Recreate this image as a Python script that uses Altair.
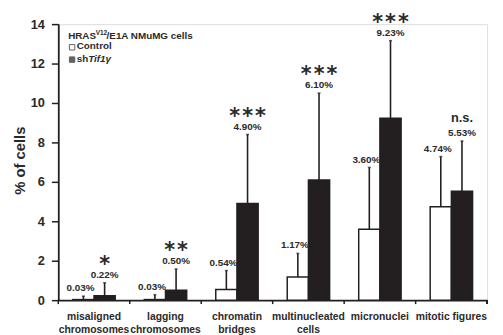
import altair as alt
import pandas as pd

# ---- data ----
categories = ["misaligned|chromosomes", "lagging|chromosomes", "chromatin|bridges",
              "multinucleated|cells", "micronuclei", "mitotic figures"]
groups = ["Control", "shTif1γ"]
control_vals = [0.03, 0.03, 0.54, 1.17, 3.60, 4.74]
sh_vals = [0.22, 0.50, 4.90, 6.10, 9.23, 5.53]
control_err = [0.17, 0.25, 0.96, 1.20, 3.13, 2.54]
sh_err = [0.66, 1.08, 3.50, 4.40, 3.93, 2.54]
significance = ["*", "**", "***", "***", "***", "n.s."]
y_ticks = [0, 2, 4, 6, 8, 10, 12, 14]

rows = []
for i, c in enumerate(categories):
    rows.append({"cat": c, "group": groups[0], "value": control_vals[i], "err": control_err[i]})
    rows.append({"cat": c, "group": groups[1], "value": sh_vals[i], "err": sh_err[i]})
df = pd.DataFrame(rows)
df["top"] = df["value"] + df["err"]
df["label"] = df["value"].map(lambda v: f"{v:.2f}%")

sig_rows = []
for i, c in enumerate(categories):
    s = significance[i]
    if s.startswith("*"):
        s = "\u200a".join(list(s))
    sig_rows.append({"cat": c, "group": groups[1], "top": sh_vals[i] + sh_err[i],
                     "sig": s, "ns": significance[i] == "n.s."})
sig_df = pd.DataFrame(sig_rows)
cat_df = pd.DataFrame({"cat": categories})

INK = "#231f20"
TXT = "#2a2a2a"
FONT = "Liberation Sans"

x_axis = alt.Axis(title=None, labelExpr="split(datum.value, '|')",
                  labelAngle=0, labelFont=FONT, labelFontWeight="bold",
                  labelFontSize=10.5, labelColor=TXT, labelLineHeight=12.5,
                  labelPadding=12, ticks=False, labelOverlap=False,
                  domainColor=INK, domainWidth=1.8, labelBaseline="top")
x_scale = alt.Scale(domain=categories, paddingInner=0, paddingOuter=0)
y_axis = alt.Axis(values=y_ticks, grid=False, title="% of cells",
                  titleFont=FONT, titleFontSize=15, titleFontWeight="bold",
                  titleColor=TXT, titleAngle=270, titleX=-39, titleY=138,
                  titleAlign="center", titleBaseline="middle",
                  labelFont=FONT, labelFontSize=13, labelFontWeight="bold",
                  labelColor=TXT, labelPadding=7, tickSize=7, tickWidth=1.5,
                  labelOverlap=False, labelFlush=False,
                  tickColor=INK, domainColor=INK, domainWidth=1.8)
y_scale = alt.Scale(domain=[0, 14], nice=False, zero=True)


def X():
    return alt.X("cat:N", sort=categories, scale=x_scale, axis=x_axis)


def Y(field):
    return alt.Y(field, scale=y_scale, axis=y_axis)


xo_enc = alt.XOffset("group:N", sort=groups,
                     scale=alt.Scale(domain=groups, paddingInner=0, paddingOuter=0.686))

base = alt.Chart(df)

bars = base.mark_bar(stroke=INK, strokeWidth=1.5).encode(
    x=X(), xOffset=xo_enc, y=Y("value:Q"),
    fill=alt.Fill("group:N", scale=alt.Scale(domain=groups, range=["#ffffff", INK]),
                  legend=None),
)

# x-axis ticks at the category boundaries
xticks = alt.Chart(cat_df).mark_rule(color=INK, strokeWidth=1.5).encode(
    x=alt.X("cat:N", sort=categories, scale=x_scale, axis=x_axis, bandPosition=0),
    y=alt.value(280), y2=alt.value(284))
xtick_end = alt.Chart(cat_df).mark_rule(color=INK, strokeWidth=1.5).encode(
    x=alt.value(435), y=alt.value(280), y2=alt.value(284))

whisk = base.mark_rule(color=INK, strokeWidth=1.6).encode(
    x=X(), xOffset=xo_enc, y=Y("value:Q"), y2="top:Q")

caps = base.mark_tick(color=INK, thickness=1.6, size=3).encode(
    x=X(), xOffset=xo_enc, y=Y("top:Q"))

pct_ctrl = base.transform_filter(alt.datum.group == groups[0]).mark_text(
    font=FONT, fontWeight="bold", fontSize=10, color=TXT, baseline="middle", dy=-8, dx=-3
).encode(x=X(), xOffset=xo_enc, y=Y("top:Q"), text="label:N")

pct_sh = base.transform_filter(alt.datum.group == groups[1]).mark_text(
    font=FONT, fontWeight="bold", fontSize=10, color=TXT, baseline="middle", dy=-8
).encode(x=X(), xOffset=xo_enc, y=Y("top:Q"), text="label:N")

sig_base = alt.Chart(sig_df)
stars = sig_base.transform_filter("!datum.ns").mark_text(
    font="DejaVu Sans", fontWeight="bold", fontSize=21, color=TXT,
    baseline="alphabetic", dy=-12
).encode(x=X(), xOffset=xo_enc, y=Y("top:Q"), text="sig:N")

ns = sig_base.transform_filter("datum.ns").mark_text(
    font=FONT, fontWeight="bold", fontSize=13, color=TXT,
    baseline="alphabetic", dy=-19
).encode(x=X(), xOffset=xo_enc, y=Y("top:Q"), text="sig:N")

# ---- legend block (annotation) ----
one = pd.DataFrame({"k": [0]})


def txt(t, x, y, size=10, style="normal", align="left"):
    return alt.Chart(one).mark_text(font=FONT, fontWeight="bold", fontStyle=style,
                                    fontSize=size, color=TXT, align=align,
                                    baseline="middle").encode(
        x=alt.value(x), y=alt.value(y), text=alt.value(t))


leg = [
    txt("HRAS", 10, 12),
    txt("V12", 38, 9, size=6.5),
    txt("/E1A NMuMG cells", 49, 12),
    txt("Control", 18.7, 22.5),
    txt("sh", 18.7, 35.5),
    txt("Tif1γ", 30.4, 35.5, style="italic"),
]
sq_ctrl = alt.Chart(one).mark_point(shape="square", size=30, filled=True, fill="#ffffff",
                                    stroke=INK, strokeWidth=1).encode(
    x=alt.value(14), y=alt.value(23.5))
sq_sh = alt.Chart(one).mark_point(shape="square", size=30, filled=True, fill=INK,
                                  stroke=INK, strokeWidth=1).encode(
    x=alt.value(14), y=alt.value(36))

chart = alt.layer(bars, xticks, xtick_end, whisk, caps, pct_ctrl, pct_sh, stars, ns,
                  *leg, sq_ctrl, sq_sh).properties(
    width=435, height=280,
    autosize=alt.AutoSizeParams(type="none"),
    padding={"left": 51, "top": 14, "right": 8, "bottom": 33},
).configure_view(stroke=None).configure(background="#ffffff")

chart.save("out.html", embed_options={"renderer": "svg", "actions": False})
